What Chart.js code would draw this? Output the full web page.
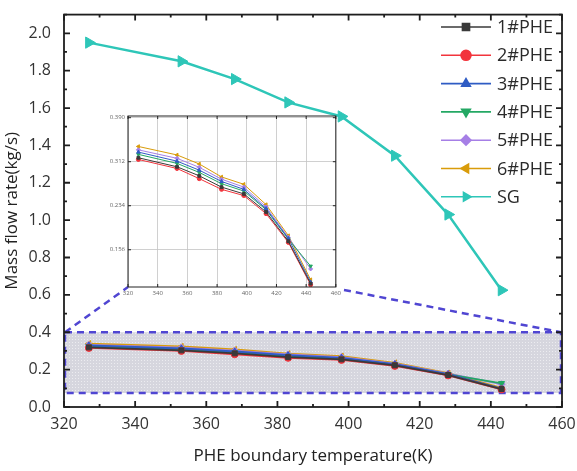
<!DOCTYPE html>
<html>
<head>
<meta charset="utf-8">
<script src="https://cdn.jsdelivr.net/npm/chart.js@4.4.0/dist/chart.umd.min.js"></script>
<style>
  html, body { margin: 0; padding: 0; background: #fff; }
  #wrap { position: relative; width: 577px; height: 471px; }
  #main { position: absolute; left: 0; top: 0; }
  #inset { position: absolute; left: 98px; top: 108px; }
</style>
</head>
<body>
<div id="wrap">
  <canvas id="main" width="577" height="471"></canvas>
  <canvas id="inset" width="246" height="196"></canvas>
</div>
<script>
// PHE boundary temperature (K)
const temps = [327, 353, 368, 383, 398, 413, 428, 443];

// mass flow rate (kg/s)
const phe1 = [0.319, 0.303, 0.287, 0.267, 0.255, 0.223, 0.171, 0.096];
const phe2 = [0.316, 0.300, 0.282, 0.263, 0.252, 0.220, 0.169, 0.094];
const phe3 = [0.329, 0.313, 0.297, 0.277, 0.263, 0.229, 0.176, 0.099];
const phe4 = [0.325, 0.309, 0.293, 0.273, 0.260, 0.227, 0.175, 0.127];
const phe5 = [0.333, 0.318, 0.302, 0.281, 0.267, 0.232, 0.178, 0.122];
const phe6 = [0.339, 0.324, 0.308, 0.285, 0.272, 0.236, 0.181, 0.103];
const sg   = [1.95, 1.85, 1.755, 1.63, 1.555, 1.345, 1.03, 0.625];

const labels = ['1#PHE', '2#PHE', '3#PHE', '4#PHE', '5#PHE', '6#PHE', 'SG'];

const FONT = "'Open Sans', 'DejaVu Sans', sans-serif";
// inset plot area in page pixels (inset canvas sits at 98,108)
const INSET = { left: 128, top: 116, right: 336, bottom: 287 };

const styles = [
  { color: '#3a3a3a', pointStyle: 'rect', rotation: 0 },
  { color: '#f2343c', pointStyle: 'circle', rotation: 0 },
  { color: '#2f5cc4', pointStyle: 'triangle', rotation: 0 },
  { color: '#24a864', pointStyle: 'triangle', rotation: 180 },
  { color: '#a67fe6', pointStyle: 'rectRot', rotation: 0 },
  { color: '#d99c0a', pointStyle: 'triangle', rotation: -90 },
  { color: '#2ec6b8', pointStyle: 'triangle', rotation: 90 }
];

function series(vals, i, radius, width) {
  const s = styles[i];
  return {
    label: labels[i],
    data: temps.map((t, k) => ({ x: t, y: vals[k] })),
    borderColor: s.color,
    backgroundColor: s.color,
    pointStyle: s.pointStyle,
    rotation: s.rotation,
    pointRadius: radius,
    pointBorderWidth: 1,
    borderWidth: width,
    tension: 0
  };
}

const pheSets = [phe1, phe2, phe3, phe4, phe5, phe6];

// dotted fill for the zoom box
function dotPattern(ctx) {
  const c = document.createElement('canvas');
  c.width = 3; c.height = 3;
  const p = c.getContext('2d');
  p.fillStyle = '#d6d6de';
  p.fillRect(0, 0, 3, 3);
  p.fillStyle = '#ececf0';
  p.fillRect(0, 0, 1, 1);
  return ctx.createPattern(c, 'repeat');
}

const zoomBox = {
  id: 'zoomBox',
  beforeDatasetsDraw(chart) {
    const { ctx, scales: { x, y } } = chart;
    const l = x.getPixelForValue(320) + 1, r = x.getPixelForValue(460) - 1;
    const t = y.getPixelForValue(0.40), b = y.getPixelForValue(0.075);
    ctx.save();
    ctx.fillStyle = dotPattern(ctx);
    ctx.fillRect(l, t, r - l, b - t);
    ctx.strokeStyle = '#5046d2';
    ctx.lineWidth = 2.5;
    ctx.setLineDash([7, 5]);
    ctx.strokeRect(l, t, r - l, b - t);
    ctx.beginPath();
    ctx.moveTo(l, t);
    ctx.lineTo(INSET.left, INSET.bottom);
    ctx.moveTo(INSET.right + 8, INSET.bottom + 3);
    ctx.lineTo(r, t);
    ctx.stroke();
    ctx.restore();
  }
};

function drawFrame(chart, opt) {
  const { ctx, chartArea: a, scales: { x, y } } = chart;
  ctx.save();
  ctx.strokeStyle = opt.color;
  ctx.lineWidth = opt.width;
  ctx.strokeRect(a.left, a.top, a.right - a.left, a.bottom - a.top);
  ctx.beginPath();
  for (let v = opt.x0; v <= opt.x1 + 1e-9; v += opt.xStep) {
    const px = x.getPixelForValue(v);
    const major = Math.round((v - opt.x0) / opt.xStep) % opt.xMajor === 0;
    const len = major ? opt.major : opt.minor;
    ctx.moveTo(px, a.bottom); ctx.lineTo(px, a.bottom - len);
    ctx.moveTo(px, a.top); ctx.lineTo(px, a.top + len);
  }
  for (let v = opt.y0; v <= opt.y1 + 1e-9; v += opt.yStep) {
    const py = y.getPixelForValue(v);
    const major = Math.round((v - opt.y0) / opt.yStep) % opt.yMajor === 0;
    const len = major ? opt.major : opt.minor;
    ctx.moveTo(a.left, py); ctx.lineTo(a.left + len, py);
    ctx.moveTo(a.right, py); ctx.lineTo(a.right - len, py);
  }
  ctx.stroke();
  ctx.restore();
}

const mainFrame = {
  id: 'mainFrame',
  afterDraw(chart) {
    drawFrame(chart, { color: '#1e1e1e', width: 1.8, major: 6, minor: 3,
      x0: 320, x1: 460, xStep: 10, xMajor: 2, y0: 0, y1: 2.1, yStep: 0.1, yMajor: 2 });
  }
};

const lineLegend = {
  id: 'lineLegend',
  afterDraw(chart) {
    const ctx = chart.ctx;
    ctx.save();
    ctx.font = '18px ' + FONT;
    ctx.textBaseline = 'middle';
    chart.data.datasets.forEach((ds, i) => {
      const yy = 27 + i * 28.3;
      ctx.strokeStyle = ds.borderColor;
      ctx.fillStyle = ds.backgroundColor;
      ctx.lineWidth = 1.6;
      ctx.beginPath();
      ctx.moveTo(441, yy); ctx.lineTo(491, yy);
      ctx.stroke();
      Chart.helpers.drawPoint(ctx, { pointStyle: ds.pointStyle, rotation: ds.rotation,
        radius: 5, borderWidth: 1 }, 466, yy);
      ctx.fillStyle = '#2a2a2a';
      ctx.fillText(ds.label, 497, yy + 1);
    });
    ctx.restore();
  }
};

new Chart(document.getElementById('main'), {
  type: 'line',
  data: {
    datasets: [
      ...pheSets.map((v, i) => series(v, i, 3.5, 1.8)),
      series(sg, 6, 6.5, 2.5)
    ]
  },
  options: {
    responsive: false,
    animation: false,
    events: [],
    layout: { padding: { top: 4, right: 15, left: 0, bottom: 0 } },
    plugins: { legend: { display: false }, tooltip: { enabled: false } },
    scales: {
      x: {
        type: 'linear', min: 320, max: 460,
        grid: { display: false }, border: { display: false },
        ticks: { stepSize: 20, padding: 0, color: '#333', font: { family: FONT, size: 16 },
          includeBounds: false },
        title: { display: true, text: 'PHE boundary temperature(K)', color: '#222',
          font: { family: FONT, size: 17 }, padding: { top: 4, bottom: 5 } },
        afterFit(s) { s.height = 64; }
      },
      y: {
        type: 'linear', min: 0, max: 2.1,
        grid: { display: false }, border: { display: false },
        ticks: { stepSize: 0.2, padding: 5, color: '#333', font: { family: FONT, size: 16 },
          includeBounds: false, callback: v => v.toFixed(1) },
        title: { display: true, text: 'Mass flow rate(kg/s)', color: '#222',
          font: { family: FONT, size: 17 }, padding: { top: 2, bottom: 4 } },
        afterFit(s) { s.width = 64; }
      }
    }
  },
  plugins: [zoomBox, mainFrame, lineLegend]
});

const insetFrame = {
  id: 'insetFrame',
  beforeDraw(chart) {
    const { ctx, chartArea: a } = chart;
    ctx.save();
    ctx.fillStyle = '#fff';
    ctx.fillRect(a.left, a.top, a.right - a.left, a.bottom - a.top);
    ctx.restore();
  },
  afterDraw(chart) {
    drawFrame(chart, { color: '#222', width: 1, major: 3, minor: 0,
      x0: 320, x1: 460, xStep: 20, xMajor: 1, y0: 0.156, y1: 0.39, yStep: 0.078, yMajor: 1 });
  }
};

new Chart(document.getElementById('inset'), {
  type: 'line',
  data: { datasets: pheSets.map((v, i) => series(v, i, 2, 1)) },
  options: {
    responsive: false,
    animation: false,
    events: [],
    layout: { padding: { top: 8, right: 8, left: 0, bottom: 0 } },
    plugins: { legend: { display: false }, tooltip: { enabled: false } },
    scales: {
      x: {
        type: 'linear', min: 320, max: 460,
        grid: { color: '#c4c4c4', lineWidth: 0.8, drawTicks: false }, border: { display: false },
        ticks: { stepSize: 20, padding: 3, color: '#666', font: { family: FONT, size: 6 } },
        afterFit(s) { s.height = 17; }
      },
      y: {
        type: 'linear', min: 0.09, max: 0.393,
        grid: { color: '#c4c4c4', lineWidth: 0.8, drawTicks: false }, border: { display: false },
        ticks: { stepSize: 0.078, padding: 3, color: '#666', font: { family: FONT, size: 6 },
          includeBounds: false, callback: v => v.toFixed(3) },
        afterFit(s) { s.width = 30; }
      }
    }
  },
  plugins: [insetFrame]
});
</script>
</body>
</html>
